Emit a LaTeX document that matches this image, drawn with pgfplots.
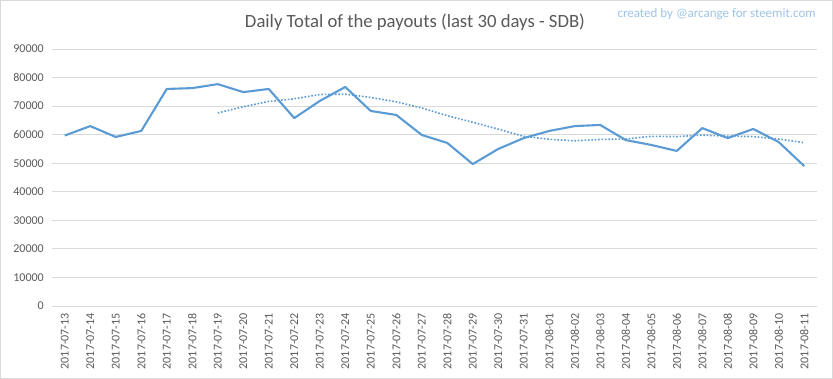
\documentclass[border=0pt]{standalone}
\usepackage{pgfplots}
\pgfplotsset{compat=1.18}
\usepackage{fontspec}
\setmainfont{Carlito}
\definecolor{txt}{HTML}{595959}
\definecolor{ln}{HTML}{5B9BD5}
\definecolor{grd}{HTML}{D9D9D9}
\definecolor{wm}{HTML}{9DC3E6}
\begin{document}
\begin{tikzpicture}
\path[use as bounding box] (0,0) rectangle (833pt,379pt);
\draw[grd, line width=1pt] (0.5pt,0.5pt) rectangle (832.5pt,378.5pt);
\node[txt, font=\fontsize{18.7pt}{22pt}\selectfont] at (415pt,357pt) {Daily Total of the payouts (last 30 days - SDB)};
\node[wm, anchor=east, inner sep=0pt, font=\fontsize{13pt}{15pt}\selectfont] at (816pt,365pt) {created by @arcange for steemit.com};
\begin{axis}[
  at={(52pt,73pt)}, anchor=south west,
  width=765pt, height=257pt, scale only axis,
  xmin=-0.5, xmax=29.5, ymin=0, ymax=90000,
  ytick={0,10000,...,90000},
  xtick={0,...,29},
  xticklabels={2017-07-13,2017-07-14,2017-07-15,2017-07-16,2017-07-17,2017-07-18,2017-07-19,2017-07-20,2017-07-21,2017-07-22,2017-07-23,2017-07-24,2017-07-25,2017-07-26,2017-07-27,2017-07-28,2017-07-29,2017-07-30,2017-07-31,2017-08-01,2017-08-02,2017-08-03,2017-08-04,2017-08-05,2017-08-06,2017-08-07,2017-08-08,2017-08-09,2017-08-10,2017-08-11},
  scaled y ticks=false,
  yticklabel style={/pgf/number format/.cd, set thousands separator={}, fixed, assume math mode=true},
  ymajorgrids, grid style={grd, line width=0.8pt},
  axis line style={draw=none},
  major tick length=0pt,
  tick label style={txt, font=\fontsize{12pt}{14pt}\selectfont, inner sep=0pt},
  yticklabel shift=8pt,
  xticklabel style={rotate=90, anchor=east},
  xticklabel shift=7pt,
]
\addplot[ln, line width=2.1pt, mark=none, line join=round] coordinates {
(0,59700) (1,63000) (2,59200) (3,61300) (4,76000) (5,76300) (6,77700) (7,74900) (8,76000) (9,65800)
(10,71800) (11,76700) (12,68300) (13,66900) (14,59900) (15,57100) (16,49700) (17,55000) (18,58800) (19,61300)
(20,63000) (21,63400) (22,58100) (23,56400) (24,54300) (25,62300) (26,58800) (27,62000) (28,57400) (29,49000)
};
\addplot[ln, line width=1.6pt, dash pattern=on 1.6pt off 1.8pt, mark=none] coordinates {
(6,67600) (7,69770) (8,71630) (9,72570) (10,74070) (11,74170) (12,73030) (13,71490) (14,69340) (15,66640)
(16,64340) (17,61940) (18,59390) (19,58390) (20,57830) (21,58330) (22,58470) (23,59430) (24,59330) (25,59830)
(26,59470) (27,59330) (28,58470) (29,57170)
};
\end{axis}
\end{tikzpicture}
\end{document}
